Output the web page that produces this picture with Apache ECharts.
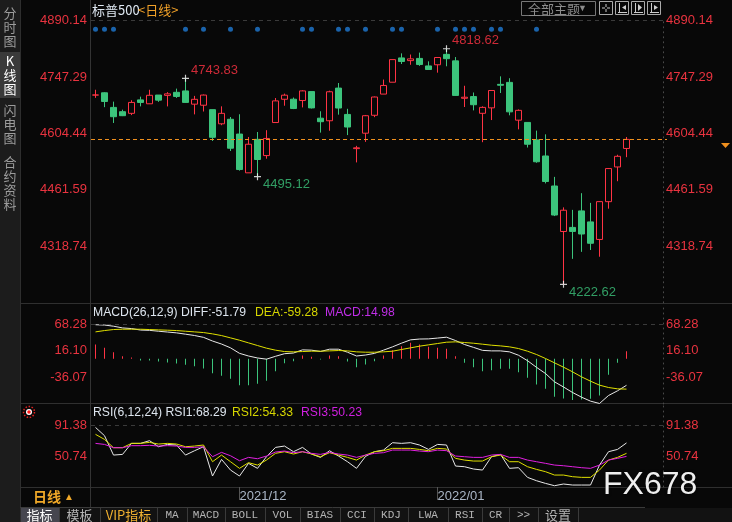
<!DOCTYPE html>
<html><head><meta charset="utf-8">
<script src="https://cdn.jsdelivr.net/npm/echarts@6/dist/echarts.min.js"></script>
<style>html,body{margin:0;padding:0;background:#080808;}#c{width:732px;height:522px;}</style>
</head><body><div id="c"></div>
<script>
// ---------- data ----------
const dates = [
 '2021/11/08','2021/11/09','2021/11/10','2021/11/11','2021/11/12','2021/11/15','2021/11/16','2021/11/17','2021/11/18','2021/11/19',
 '2021/11/22','2021/11/23','2021/11/24','2021/11/26','2021/11/29','2021/11/30','2021/12/01','2021/12/02','2021/12/03','2021/12/06',
 '2021/12/07','2021/12/08','2021/12/09','2021/12/10','2021/12/13','2021/12/14','2021/12/15','2021/12/16','2021/12/17','2021/12/20',
 '2021/12/21','2021/12/22','2021/12/23','2021/12/27','2021/12/28','2021/12/29','2021/12/30','2021/12/31','2022/01/03','2022/01/04',
 '2022/01/05','2022/01/06','2022/01/07','2022/01/10','2022/01/11','2022/01/12','2022/01/13','2022/01/14','2022/01/18','2022/01/19',
 '2022/01/20','2022/01/21','2022/01/24','2022/01/25','2022/01/26','2022/01/27','2022/01/28','2022/01/31','2022/02/01','2022/02/02'];
const opens = [4701.48,4707.25,4670.26,4659.39,4655.24,4689.30,4679.42,4701.50,4700.72,4708.44,
 4712.00,4678.48,4675.78,4664.63,4628.75,4640.25,4602.82,4504.73,4589.49,4548.37,
 4631.97,4690.86,4691.00,4687.64,4710.30,4642.99,4636.46,4719.13,4652.50,4566.00,
 4605.00,4650.36,4703.96,4733.99,4795.49,4788.64,4794.23,4775.21,4778.14,4804.51,
 4787.99,4693.39,4697.66,4655.34,4669.14,4728.59,4733.56,4637.99,4632.24,4588.03,
 4547.35,4471.38,4356.32,4366.64,4408.43,4380.58,4336.19,4431.79,4519.57,4566.39];
const closes = [4701.70,4685.25,4646.71,4649.27,4682.85,4682.80,4700.90,4688.67,4704.54,4697.96,
 4682.94,4690.70,4701.46,4594.62,4655.27,4567.00,4513.04,4577.10,4538.43,4591.67,
 4686.75,4701.21,4667.45,4712.02,4668.97,4634.09,4709.85,4668.67,4620.64,4568.02,
 4649.23,4696.56,4725.79,4791.19,4786.35,4793.06,4778.73,4766.18,4796.56,4793.54,
 4700.58,4696.05,4677.03,4670.29,4713.07,4726.35,4659.03,4662.85,4577.11,4532.76,
 4482.73,4397.94,4410.13,4356.45,4349.93,4326.51,4431.85,4515.55,4546.54,4589.38];
const lows = [4694.39,4670.87,4630.86,4648.31,4650.77,4672.86,4679.42,4684.41,4672.78,4694.22,
 4682.17,4652.66,4659.89,4585.43,4625.26,4560.00,4510.27,4504.73,4495.12,4540.51,
 4631.97,4674.52,4665.98,4670.24,4667.60,4606.52,4611.22,4651.89,4600.22,4531.10,
 4583.16,4645.53,4703.96,4733.99,4780.04,4778.08,4775.33,4765.75,4758.17,4774.27,
 4699.44,4671.26,4662.74,4582.24,4638.27,4706.71,4650.29,4614.75,4568.70,4530.20,
 4477.95,4395.34,4222.62,4287.11,4304.80,4309.50,4292.46,4414.02,4483.53,4544.32];
const highs = [4714.92,4708.53,4684.85,4664.55,4688.47,4697.42,4714.95,4701.50,4708.80,4717.75,
 4743.83,4699.39,4702.87,4664.63,4672.95,4646.02,4652.94,4595.46,4608.03,4612.60,
 4694.04,4705.06,4695.26,4713.57,4710.30,4660.47,4712.60,4731.99,4666.70,4573.00,
 4651.14,4697.67,4740.74,4791.49,4807.02,4804.06,4808.93,4786.83,4796.64,4818.62,
 4797.70,4725.01,4707.95,4673.02,4714.13,4748.83,4744.13,4665.13,4632.24,4611.55,
 4602.11,4494.52,4417.35,4411.01,4453.23,4428.74,4432.72,4516.89,4550.49,4595.31];
const markerIdx = [0,1,2,10,12,15,18,23,24,27,28,30,33,34,38,40,41,42,44,45,49];
const markerLevel = 4868;
const peakIdx = [10, 39];
const troughIdx = [18, 52];
const diff = [66.8,66.2,63.9,60.6,59.3,56.4,55.8,54.1,52.5,50.9,48.3,45.7,42.1,34.9,29.0,21.6,10.8,5.6,1.7,-0.6,
 5.0,10.1,11.4,17.6,17.0,14.4,18.9,18.9,13.0,5.6,7.5,10.7,17.0,23.5,30.7,37.2,38.8,39.1,40.7,42.4,
 35.9,28.1,22.5,16.6,15.6,15.6,13.7,7.1,-3.6,-16.6,-28.7,-45.0,-55.1,-65.8,-75.0,-82.8,-87.4,-71.8,-62.6,-51.79];
const dea = [52.8,55.4,57.4,58.0,58.0,58.0,57.4,56.7,56.1,55.4,54.1,52.8,51.5,48.9,45.6,41.1,36.5,31.3,26.1,20.9,
 17.0,14.3,13.7,14.3,15.0,15.0,15.6,16.3,15.6,13.7,13.0,13.0,13.7,15.0,18.3,21.5,24.8,27.4,30.0,32.6,
 33.3,32.0,30.6,28.7,26.7,25.4,23.5,20.2,15.0,8.5,0.7,-7.8,-16.3,-25.4,-35.2,-43.7,-51.5,-56.1,-58.7,-59.28];
const macd = [28.0,21.5,13.0,5.2,2.6,-3.3,-3.3,-5.2,-7.2,-9.1,-11.7,-14.3,-18.9,-28.0,-33.3,-39.1,-51.5,-51.5,-48.9,-43.0,
 -24.1,-8.5,-4.6,6.5,3.9,-1.3,6.5,5.2,-5.2,-16.3,-11.0,-4.6,6.5,17.0,24.8,31.3,28.0,23.5,21.5,19.6,
 5.2,-7.8,-16.3,-24.1,-22.2,-19.6,-19.6,-26.1,-37.2,-50.2,-58.7,-74.3,-77.6,-80.8,-79.5,-78.2,-71.7,-31.3,-7.8,14.98];
const rsi1 = [89.1,78.0,52.0,52.9,67.7,67.7,71.3,63.2,66.3,65.5,52.0,57.8,63.2,23.9,46.2,31.9,23.9,40.9,34.2,49.8,
 62.3,64.1,56.5,62.3,53.4,48.9,57.8,50.7,43.1,34.2,50.2,56.5,58.7,68.6,67.7,68.6,65.5,59.6,66.3,65.5,
 37.3,36.4,33.3,31.9,49.8,52.9,34.2,35.1,22.1,17.6,14.0,10.9,13.2,11.8,11.8,11.8,38.6,56.5,59.6,68.29];
const rsi2 = [79.8,73.0,61.9,61.9,67.7,67.7,69.0,66.8,67.7,66.8,63.2,64.1,65.5,43.1,52.0,43.1,34.2,41.8,38.6,45.3,
 54.3,56.5,53.4,56.5,53.4,49.8,55.2,52.0,48.9,45.3,52.0,56.5,57.9,61.0,61.0,61.0,59.6,57.9,61.0,60.1,
 47.6,45.3,44.0,44.0,49.8,52.0,43.1,43.1,36.4,32.8,29.7,25.2,25.2,23.0,22.1,22.1,31.9,45.3,48.9,54.33];
const rsi3 = [67.7,66.3,61.9,61.9,64.6,64.6,65.1,64.1,64.6,64.1,62.3,62.3,63.2,49.8,55.6,51.1,44.4,48.9,47.1,50.7,
 56.1,57.4,55.2,56.5,54.3,52.9,55.6,53.4,52.0,48.9,52.0,54.3,55.2,58.7,58.7,58.7,57.4,56.5,58.7,57.9,
 50.7,49.8,48.9,48.9,52.0,52.9,48.9,48.9,45.3,43.1,40.9,38.6,37.7,36.4,35.1,34.2,38.6,45.3,47.6,50.23];
const priceTicks = [4890.14, 4747.29, 4604.44, 4461.59, 4318.74];
const macdTicks = [68.28, 16.10, -36.07];
const rsiTicks = [91.38, 50.74];
const monthLabels = ['2021/12', '2022/01'];

// ---------- chart ----------
const RED = '#ff3344', GREEN = '#3cc47c', BG = '#080808', LBL = '#e8333f';
const numFont = '"Liberation Sans", Arial, sans-serif';
const cjk = '"Noto Sans CJK SC", sans-serif';
const monoFont = '"Liberation Mono", monospace';
const n = dates.length;
const cats = dates.concat(['p1','p2','p3','p4']);
const isMonth = (i) => i > 0 && i < n && dates[i].slice(0,7) !== dates[i-1].slice(0,7) && monthLabels.indexOf(dates[i].slice(0,7)) >= 0;

const GL = 91, GW = 576;
function xa(gi, show) {
  return {type:'category', gridIndex:gi, data:cats, boundaryGap:true,
    axisLine:{show:false}, splitLine:{show:false},
    axisTick: show ? {show:true, alignWithLabel:true, interval:(i)=>isMonth(i), length:13, lineStyle:{color:'#555'}} : {show:false},
    axisLabel: show ? {show:true, interval:(i)=>isMonth(i), formatter:(v)=>v.slice(0,7), align:'left',
      color:'#aab6c6', fontSize:13, fontFamily:numFont, margin:3} : {show:false}};
}
function ya(gi, pos, min, max, ticks) {
  return {type:'value', gridIndex:gi, position:pos, min:min, max:max,
    offset: pos === 'right' ? -4 : 0,
    axisLine:{show: pos === 'right', lineStyle:{color:'#4a4a4a', type:[1,4]}},
    axisTick:{show:false}, splitLine:{show:false},
    axisLabel:{show:true, customValues:ticks, formatter:(v)=>Number(v).toFixed(2), color:LBL,
      fontSize:13, fontFamily:numFont, margin: pos === 'right' ? 3 : 4}};
}
const dashed = (v) => ({silent:true, symbol:'none', animation:false, label:{show:false},
  data:[{yAxis:v, lineStyle:{color:'#3a3a3a', type:[4,4], width:1}}]});
const crossSym = 'path://M0,2.5H6V3.5H0Z M2.5,0H3.5V6H2.5Z';

const graphic = [];
// left sidebar
graphic.push({type:'rect', shape:{x:0,y:0,width:20,height:522}, style:{fill:'#1c1c1c'}, silent:true});
graphic.push({type:'rect', shape:{x:0,y:52,width:20,height:46}, style:{fill:'#3a3a3a'}, silent:true});
graphic.push({type:'line', shape:{x1:20.5,y1:0,x2:20.5,y2:522}, style:{stroke:'#2e2e2e'}, silent:true});
[['分\n时\n图',6,'#9c9c9c'],['K\n线\n图',54,'#ffffff'],['闪\n电\n图',103,'#9c9c9c'],['合\n约\n资\n料',155,'#9c9c9c']].forEach(t=>{
  graphic.push({type:'text', x:10, y:t[1], silent:true,
    style:{text:t[0], fill:t[2], font:'13px ' + cjk, align:'center', verticalAlign:'top', lineHeight:14}});
});
// separators
[[303.5],[403.5],[487.5]].forEach(s=>graphic.push({type:'line', shape:{x1:20,y1:s[0],x2:732,y2:s[0]}, style:{stroke:'#2f2f2f'}, silent:true}));
graphic.push({type:'line', shape:{x1:20,y1:507.5,x2:645,y2:507.5}, style:{stroke:'#3a3a3a'}, silent:true});
graphic.push({type:'line', shape:{x1:90.5,y1:0,x2:90.5,y2:507}, style:{stroke:'#333'}, silent:true});
// title
graphic.push({type:'text', x:92, y:10, silent:true, style:{text:'标普500', fill:'#dfe8f2', font:'13px ' + cjk, verticalAlign:'middle'}});
graphic.push({type:'text', x:138, y:10, silent:true, style:{text:'<日线>', fill:'#f0a028', font:'13px ' + cjk, verticalAlign:'middle'}});
// top right buttons
graphic.push({type:'rect', shape:{x:521.5,y:1.5,width:74,height:14}, style:{fill:'none', stroke:'#777'}, silent:true});
graphic.push({type:'text', x:528, y:9, silent:true, style:{text:'全部主题', fill:'#8c8c8c', font:'13px ' + cjk, verticalAlign:'middle'}});
graphic.push({type:'text', x:578, y:9, silent:true, style:{text:'▼', fill:'#8c8c8c', font:'9px ' + numFont, verticalAlign:'middle'}});
[599,615,631,647].forEach((x,k)=>{
  graphic.push({type:'rect', shape:{x:x+0.5,y:1.5,width:13,height:13}, style:{fill:'none', stroke:'#aaa'}, silent:true});
  const cx = x + 7, cy = 8;
  if (k === 0) {
    graphic.push({type:'line', shape:{x1:cx-4,y1:cy,x2:cx-1,y2:cy}, style:{stroke:'#ccc'}, silent:true});
    graphic.push({type:'line', shape:{x1:cx+1,y1:cy,x2:cx+4,y2:cy}, style:{stroke:'#ccc'}, silent:true});
    graphic.push({type:'line', shape:{x1:cx,y1:cy-4,x2:cx,y2:cy-1}, style:{stroke:'#ccc'}, silent:true});
    graphic.push({type:'line', shape:{x1:cx,y1:cy+1,x2:cx,y2:cy+4}, style:{stroke:'#ccc'}, silent:true});
  } else {
    graphic.push({type:'line', shape:{x1:x+4.5,y1:3,x2:x+4.5,y2:13}, style:{stroke:'#ccc'}, silent:true});
    graphic.push({type:'line', shape:{x1:x+3,y1:12.5,x2:x+12,y2:12.5}, style:{stroke:'#ccc'}, silent:true});
    const pts = k === 1 ? [[x+11,5],[x+11,10],[x+7,7.5]] : (k === 2 ? [[x+7,4],[x+7,11],[x+11,7.5]] : [[x+7,5],[x+7,10],[x+11,7.5]]);
    graphic.push({type:'polygon', shape:{points:pts}, style:{fill:'#ccc'}, silent:true});
  }
});
// last price marker on the right axis
graphic.push({type:'polygon', shape:{points:[[721,143],[730,143],[725.5,148]]}, style:{fill:'#f0901e'}, silent:true});
// indicator titles
const f2 = (v)=>v.toFixed(2);
const tf = '12.2px ' + numFont;
graphic.push({type:'text', x:93, y:313, silent:true, style:{text:'MACD(26,12,9) DIFF:' + f2(diff[n-1]), fill:'#dde5ee', font:tf, verticalAlign:'middle'}});
graphic.push({type:'text', x:255, y:313, silent:true, style:{text:'DEA:' + f2(dea[n-1]), fill:'#d6d600', font:tf, verticalAlign:'middle'}});
graphic.push({type:'text', x:325, y:313, silent:true, style:{text:'MACD:' + f2(macd[n-1]), fill:'#c02ee8', font:tf, verticalAlign:'middle'}});
graphic.push({type:'text', x:93, y:413, silent:true, style:{text:'RSI(6,12,24) RSI1:' + f2(rsi1[n-1]), fill:'#dde5ee', font:tf, verticalAlign:'middle'}});
graphic.push({type:'text', x:232, y:413, silent:true, style:{text:'RSI2:' + f2(rsi2[n-1]), fill:'#d6d600', font:tf, verticalAlign:'middle'}});
graphic.push({type:'text', x:301, y:413, silent:true, style:{text:'RSI3:' + f2(rsi3[n-1]), fill:'#d020e0', font:tf, verticalAlign:'middle'}});
// red icon
graphic.push({type:'circle', shape:{cx:29,cy:412,r:5.5}, style:{fill:'none', stroke:'#e02020', lineWidth:1.5, lineDash:[1.5,1.6]}, silent:true});
graphic.push({type:'circle', shape:{cx:29,cy:412,r:3}, style:{fill:'#ffffff'}, silent:true});
graphic.push({type:'circle', shape:{cx:29,cy:412,r:1.8}, style:{fill:'#ff1a1a'}, silent:true});
// period label
graphic.push({type:'text', x:33, y:497, silent:true, style:{text:'日线', fill:'#f0a828', font:'bold 14px ' + cjk, verticalAlign:'middle'}});
graphic.push({type:'text', x:64, y:497, silent:true, style:{text:'▲', fill:'#f0a828', font:'10px ' + numFont, verticalAlign:'middle'}});
// toolbar
graphic.push({type:'rect', shape:{x:21,y:508,width:711,height:14}, style:{fill:'#121212'}, silent:true});
const tabs = [[20,59,'指标'],[59,100,'模板'],[100,157,'VIP指标'],[157,187,'MA'],[187,225,'MACD'],[225,265,'BOLL'],[265,300,'VOL'],
  [300,340,'BIAS'],[340,374,'CCI'],[374,408,'KDJ'],[408,448,'LWA'],[448,482,'RSI'],[482,509,'CR'],[509,538,'>>'],[538,578,'设置']];
tabs.forEach((t,k)=>{
  if (k === 0) graphic.push({type:'rect', shape:{x:t[0]+1,y:508,width:t[1]-t[0]-1,height:14}, style:{fill:'#46464f'}, silent:true});
  graphic.push({type:'line', shape:{x1:t[1]+0.5,y1:508,x2:t[1]+0.5,y2:522}, style:{stroke:'#3a3a3a'}, silent:true});
  const isCjk = /[\u4e00-\u9fff]/.test(t[2]);
  const col = k === 0 ? '#ffffff' : (k === 2 ? '#f0b030' : '#b4b4b4');
  graphic.push({type:'text', x:(t[0]+t[1])/2, y:515.5, silent:true,
    style:{text:t[2], fill:col, font: (isCjk ? '13px ' + cjk : '11px ' + monoFont), align:'center', verticalAlign:'middle'}});
});
// watermark
graphic.push({type:'text', x:603, y:485, silent:true, z:100,
  style:{text:'FX678', fill:'#eeeeee', font:'32px ' + numFont, verticalAlign:'middle', textShadowColor:'#000', textShadowBlur:3}});

const option = {
  backgroundColor: BG,
  animation: false,
  grid: [
    {left:GL, top:20.5, width:GW, height:282.3},
    {left:GL, top:304, width:GW, height:100},
    {left:GL, top:404, width:GW, height:83}
  ],
  xAxis: [xa(0,false), xa(1,false), xa(2,true)],
  yAxis: [
    ya(0,'left',4175.89,4890.14,priceTicks), ya(0,'right',4175.89,4890.14,priceTicks),
    ya(1,'left',-88.4,107.4,macdTicks), ya(1,'right',-88.4,107.4,macdTicks),
    ya(2,'left',9.18,120.5,rsiTicks), ya(2,'right',9.18,120.5,rsiTicks)
  ],
  graphic: graphic,
  series: [
    {type:'candlestick', xAxisIndex:0, yAxisIndex:0, barWidth:7,
      data: dates.map((d,i)=>[opens[i], closes[i], lows[i], highs[i]]),
      itemStyle:{color:BG, color0:GREEN, borderColor:RED, borderColor0:GREEN, borderWidth:1},
      markLine:{silent:true, symbol:'none', animation:false, label:{show:false},
        data:[{yAxis:priceTicks[0], lineStyle:{color:'#3a3a3a', type:[4,4], width:1}},
              {yAxis:closes[n-1], lineStyle:{color:'#f0901e', type:[4,3], width:1}}]}},
    {type:'scatter', xAxisIndex:0, yAxisIndex:0, symbol:'circle', symbolSize:5, silent:true,
      itemStyle:{color:'#1f7ad4'}, data: markerIdx.map(i=>[i, markerLevel])},
    {type:'scatter', xAxisIndex:0, yAxisIndex:0, symbol:crossSym, symbolSize:7, silent:true,
      itemStyle:{color:'#ffffff'}, data: peakIdx.map(i=>[i, highs[i]]),
      label:{show:true, position:'right', distance:2, offset:[0,-8], formatter:(p)=>p.value[1].toFixed(2),
        color:RED, fontSize:13, fontFamily:numFont}},
    {type:'scatter', xAxisIndex:0, yAxisIndex:0, symbol:crossSym, symbolSize:7, silent:true,
      itemStyle:{color:'#ffffff'}, data: troughIdx.map(i=>[i, lows[i]]),
      label:{show:true, position:'right', distance:2, offset:[0,8], formatter:(p)=>p.value[1].toFixed(2),
        color:GREEN, fontSize:13, fontFamily:numFont}},
    {type:'bar', xAxisIndex:1, yAxisIndex:2, barWidth:1, silent:true,
      data: macd.map(v=>({value:v, itemStyle:{color: v >= 0 ? RED : GREEN}})), markLine: dashed(macdTicks[0])},
    {type:'line', xAxisIndex:1, yAxisIndex:2, data:diff, symbol:'none', silent:true, lineStyle:{color:'#e8e8e8', width:1}},
    {type:'line', xAxisIndex:1, yAxisIndex:2, data:dea, symbol:'none', silent:true, lineStyle:{color:'#e0e000', width:1}},
    {type:'line', xAxisIndex:2, yAxisIndex:4, data:rsi1, symbol:'none', silent:true, lineStyle:{color:'#e8e8e8', width:1}, markLine: dashed(rsiTicks[0])},
    {type:'line', xAxisIndex:2, yAxisIndex:4, data:rsi2, symbol:'none', silent:true, lineStyle:{color:'#e0e000', width:1}},
    {type:'line', xAxisIndex:2, yAxisIndex:4, data:rsi3, symbol:'none', silent:true, lineStyle:{color:'#e020e0', width:1}}
  ]
};
const chart = echarts.init(document.getElementById('c'));
chart.setOption(option);
</script>
</body></html>
